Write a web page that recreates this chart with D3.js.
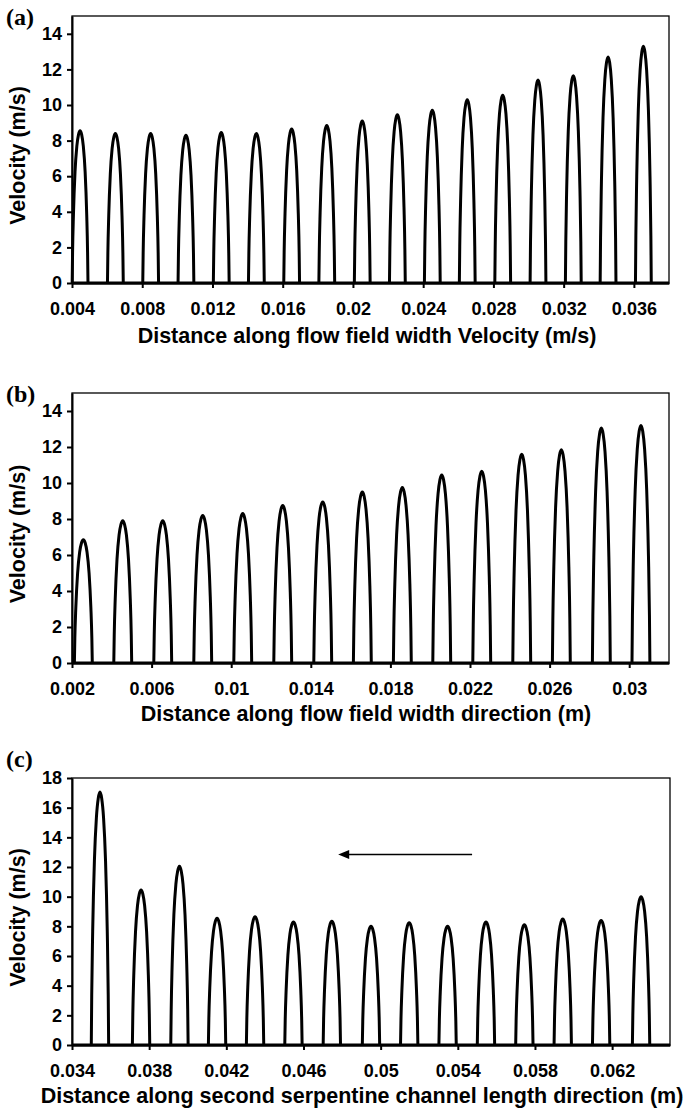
<!DOCTYPE html>
<html>
<head>
<meta charset="utf-8">
<script src="https://cdn.jsdelivr.net/npm/d3@7"></script>
<style>
body { margin: 0; background: #fff; }
svg text { font-family: "Liberation Sans", Arial, sans-serif; font-weight: bold; fill: #000; }
</style>
</head>
<body>
<div id="chart"></div>
<script>
// Peak centres (m) and peak velocities (m/s).
var peakXA = [0.00446, 0.00647, 0.00848, 0.01049, 0.0125, 0.0145, 0.01651, 0.01851, 0.02053,
    0.02253, 0.02452, 0.02651, 0.02853, 0.03054, 0.03255, 0.03453, 0.03654];
var peakVA = [8.55, 8.4, 8.4, 8.3, 8.45, 8.4, 8.65, 8.85, 9.1, 9.45, 9.7, 10.3, 10.55, 11.4, 11.65, 12.7, 13.3];

var peakXB = [0.00257, 0.00455, 0.00656, 0.00857, 0.01058, 0.01259, 0.0146, 0.01659, 0.0186,
    0.02058, 0.02259, 0.0246, 0.02659, 0.0286, 0.03059];
var peakVB = [6.85, 7.9, 7.9, 8.2, 8.3, 8.75, 8.95, 9.5, 9.75, 10.45, 10.65, 11.6, 11.85, 13.05, 13.2];

var peakXC = [0.03545, 0.03758, 0.03957, 0.04152, 0.04349, 0.04548, 0.04747, 0.0495, 0.05148,
    0.05347, 0.05546, 0.05745, 0.05944, 0.06143, 0.0635];
var peakVC = [17.05, 10.45, 12.05, 8.55, 8.65, 8.3, 8.35, 8.0, 8.25, 8.0, 8.3, 8.1, 8.5, 8.4, 10.0];

// velocity profile across one channel, position -1..1 of the half width, u/umax
var profileS = [-1, -0.95, -0.84, -0.64, -0.41, -0.2, 0, 0.2, 0.41, 0.64, 0.84, 0.95, 1];
var profileU = [0, 0.2, 0.45, 0.73, 0.9, 0.975, 1, 0.975, 0.9, 0.73, 0.45, 0.2, 0];
var channelHalfWidth = 0.00045;

// axis ranges and ticks
var xDomainA = [0.004, 0.038];
var xTicksA = [0.004, 0.008, 0.012, 0.016, 0.02, 0.024, 0.028, 0.032, 0.036];
var xDomainB = [0.002, 0.032];
var xTicksB = [0.002, 0.006, 0.01, 0.014, 0.018, 0.022, 0.026, 0.03];
var xDomainC = [0.034, 0.065];
var xTicksC = [0.034, 0.038, 0.042, 0.046, 0.05, 0.054, 0.058, 0.062];
var yDomainAB = [0, 15];
var yTicksAB = [0, 2, 4, 6, 8, 10, 12, 14];
var yDomainC = [0, 18];
var yTicksC = [0, 2, 4, 6, 8, 10, 12, 14, 16, 18];

// flow direction arrow in (c): tail and head (x in m, y in m/s)
var arrowX = [0.05474, 0.0478];
var arrowY = [12.84, 12.84];

var svgWidth = 688;
var svgHeight = 1110;

var svg = d3.select("#chart")
    .append("svg")
    .attr("width", svgWidth)
    .attr("height", svgHeight);

var panels = [
    { tag: "(a)", px: peakXA, pv: peakVA, xd: xDomainA, xt: xTicksA, yd: yDomainAB, yt: yTicksAB,
      left: 72, right: 669, top: 16, bottom: 283, tagY: 25,
      title: "Distance along flow field width Velocity (m/s)", titleX: 367, titleY: 343 },
    { tag: "(b)", px: peakXB, pv: peakVB, xd: xDomainB, xt: xTicksB, yd: yDomainAB, yt: yTicksAB,
      left: 72, right: 669, top: 393, bottom: 663, tagY: 402,
      title: "Distance along flow field width direction (m)", titleX: 366, titleY: 721 },
    { tag: "(c)", px: peakXC, pv: peakVC, xd: xDomainC, xt: xTicksC, yd: yDomainC, yt: yTicksC,
      left: 72, right: 670, top: 778, bottom: 1045, tagY: 767,
      title: "Distance along second serpentine channel length direction (m)", titleX: 362, titleY: 1103 }
];

function drawPanel(p, i) {
    var x = d3.scaleLinear().domain(p.xd).range([p.left, p.right]);
    var y = d3.scaleLinear().domain(p.yd).range([p.bottom, p.top]);

    var g = svg.append("g").attr("class", "panel");

    // plot area border
    g.append("rect")
        .attr("x", p.left)
        .attr("y", p.top)
        .attr("width", p.right - p.left)
        .attr("height", p.bottom - p.top)
        .attr("fill", "none")
        .attr("stroke", "#000")
        .attr("stroke-width", 1.3);

    // zero line the humps sit on
    var line = d3.line().x(d => x(d[0])).y(d => y(d[1]));
    g.append("path")
        .attr("d", line([[p.xd[0], 0], [p.xd[1], 0]]))
        .attr("stroke", "#000")
        .attr("stroke-width", 3)
        .attr("fill", "none");

    // one velocity hump per channel
    var hump = d3.line()
        .x(d => x(d[0]))
        .y(d => y(d[1]))
        .curve(d3.curveMonotoneX);

    var clipId = "clip" + i;
    svg.append("clipPath").attr("id", clipId)
        .append("rect")
        .attr("x", p.left - 2).attr("y", p.top)
        .attr("width", p.right - p.left + 4).attr("height", p.bottom - p.top + 3);

    g.append("g")
        .attr("clip-path", "url(#" + clipId + ")")
        .selectAll("path")
        .data(p.px.map((c, k) => profileS.map((s, j) => [c + s * channelHalfWidth, profileU[j] * p.pv[k]])))
        .join("path")
        .attr("d", hump)
        .attr("fill", "none")
        .attr("stroke", "#000")
        .attr("stroke-width", 3)
        .attr("stroke-linejoin", "round");

    // axes
    var bottomAxis = d3.axisBottom(x)
        .tickValues(p.xt)
        .tickFormat(d3.format("~f"))
        .tickSizeInner(5)
        .tickSizeOuter(0)
        .tickPadding(14);
    var gx = g.append("g")
        .attr("transform", `translate(0, ${p.bottom})`)
        .call(bottomAxis);

    var leftAxis = d3.axisLeft(y)
        .tickValues(p.yt)
        .tickSizeInner(5)
        .tickSizeOuter(0)
        .tickPadding(5);
    var gy = g.append("g")
        .attr("transform", `translate(${p.left}, 0)`)
        .call(leftAxis);

    [gx, gy].forEach(a => {
        a.select(".domain").attr("stroke-width", 2);
        a.selectAll(".tick line").attr("stroke-width", 2);
        a.selectAll(".tick text")
            .style("font-size", "18px")
            .style("font-family", "'Liberation Sans', Arial, sans-serif")
            .style("font-weight", "bold");
    });

    // titles
    g.append("text")
        .attr("x", p.titleX)
        .attr("y", p.titleY)
        .attr("text-anchor", "middle")
        .style("font-size", "21.5px")
        .text(p.title);

    g.append("text")
        .attr("transform", `translate(25, ${(p.top + p.bottom) / 2 + 6}) rotate(-90)`)
        .attr("text-anchor", "middle")
        .style("font-size", "21.5px")
        .text("Velocity (m/s)");

    g.append("text")
        .attr("x", 6)
        .attr("y", p.tagY)
        .style("font-family", "'Liberation Serif', 'Times New Roman', serif")
        .style("font-size", "24px")
        .text(p.tag);

    return { x: x, y: y, g: g };
}

var drawn = panels.map(drawPanel);

// arrow in panel (c)
var c = drawn[2];
var tail = [c.x(arrowX[0]), c.y(arrowY[0])];
var head = [c.x(arrowX[1]), c.y(arrowY[1])];
c.g.append("line")
    .attr("x1", tail[0]).attr("y1", tail[1])
    .attr("x2", head[0] + 8).attr("y2", head[1])
    .attr("stroke", "#000")
    .attr("stroke-width", 1.5);
c.g.append("path")
    .attr("d", `M${head[0]},${head[1]} L${head[0] + 11},${head[1] - 4.5} L${head[0] + 11},${head[1] + 4.5} Z`)
    .attr("fill", "#000");
</script>
</body>
</html>
